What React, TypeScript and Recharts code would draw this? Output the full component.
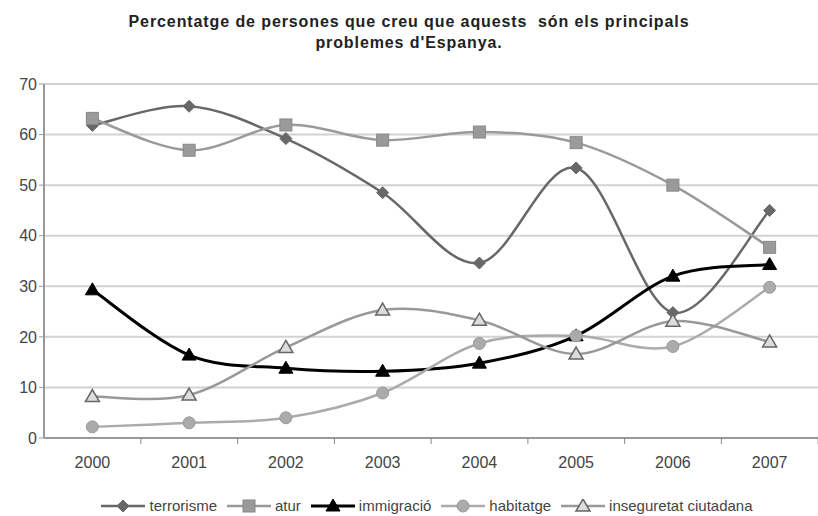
import { LineChart, Line, XAxis, YAxis, CartesianGrid } from "recharts";

const years = ["2000", "2001", "2002", "2003", "2004", "2005", "2006", "2007"];
const terrorisme = [61.8, 65.6, 59.2, 48.5, 34.6, 53.4, 24.8, 45];
const atur = [63.2, 56.9, 61.9, 58.9, 60.5, 58.4, 50, 37.7];
const immigracio = [29.3, 16.4, 13.8, 13.2, 14.8, 20.2, 32, 34.3];
const habitatge = [2.2, 3, 4, 8.9, 18.7, 20.2, 18.1, 29.8];
const inseguretat = [8.2, 8.5, 17.9, 25.3, 23.3, 16.6, 23.1, 19];
const yTicks = [0, 10, 20, 30, 40, 50, 60, 70];

const series = [
  { key: "terrorisme", name: "terrorisme", values: terrorisme, color: "#686868", shape: "diamond", fill: "#686868", width: 2.5 },
  { key: "atur", name: "atur", values: atur, color: "#9a9a9a", shape: "square", fill: "#9a9a9a", width: 2.5 },
  { key: "immigracio", name: "immigració", values: immigracio, color: "#000000", shape: "triangle", fill: "#000000", width: 3 },
  { key: "habitatge", name: "habitatge", values: habitatge, color: "#ababab", shape: "circle", fill: "#ababab", width: 2.5 },
  { key: "inseguretat", name: "inseguretat ciutadana", values: inseguretat, color: "#999999", shape: "triangleOpen", fill: "#dcdcdc", width: 2.5 },
];

const data = years.map((year, i) => {
  const row: Record<string, string | number> = { year };
  for (const s of series) row[s.key] = s.values[i];
  return row;
});

// Excel-style smoothing: Catmull-Rom through the points
function excelCurve(context: any) {
  let pts: [number, number][] = [];
  return {
    areaStart() {},
    areaEnd() {},
    lineStart() {
      pts = [];
    },
    lineEnd() {
      const n = pts.length;
      if (!n) return;
      context.moveTo(pts[0][0], pts[0][1]);
      for (let i = 0; i < n - 1; i++) {
        const p0 = pts[i - 1] || pts[i];
        const p1 = pts[i];
        const p2 = pts[i + 1];
        const p3 = pts[i + 2] || p2;
        context.bezierCurveTo(
          p1[0] + (p2[0] - p0[0]) / 6,
          p1[1] + (p2[1] - p0[1]) / 6,
          p2[0] - (p3[0] - p1[0]) / 6,
          p2[1] - (p3[1] - p1[1]) / 6,
          p2[0],
          p2[1]
        );
      }
    },
    point(x: number, y: number) {
      pts.push([+x, +y]);
    },
  };
}

function Marker({ cx, cy, shape, fill, color }: any) {
  if (cx == null || cy == null) return null;
  if (shape === "diamond") {
    return <path d={`M${cx},${cy - 6}L${cx + 6},${cy}L${cx},${cy + 6}L${cx - 6},${cy}Z`} fill={fill} stroke={color} strokeWidth={1} />;
  }
  if (shape === "square") {
    return <rect x={cx - 6} y={cy - 6} width={12} height={12} fill={fill} stroke="#888" strokeWidth={1} />;
  }
  if (shape === "circle") {
    return <circle cx={cx} cy={cy} r={6} fill={fill} stroke="#999" strokeWidth={1} />;
  }
  if (shape === "triangle") {
    return <path d={`M${cx},${cy - 7}L${cx + 7},${cy + 5}L${cx - 7},${cy + 5}Z`} fill={fill} stroke="#000" strokeWidth={1} />;
  }
  return <path d={`M${cx},${cy - 7}L${cx + 7},${cy + 5}L${cx - 7},${cy + 5}Z`} fill={fill} stroke="#666" strokeWidth={1.5} />;
}

function YearTick({ x, y, payload }: any) {
  return (
    <g>
      <line x1={x + 48.5} y1={y - 8} x2={x + 48.5} y2={y - 2} stroke="#888" />
      <text x={x} y={y + 22} textAnchor="middle" fill="#444" fontSize={16}>
        {payload.value}
      </text>
    </g>
  );
}

function LegendIcon({ s }: any) {
  return (
    <svg width={44} height={14} style={{ marginRight: 4 }}>
      <line x1={0} y1={7} x2={44} y2={7} stroke={s.color} strokeWidth={s.width} />
      <Marker cx={22} cy={7} shape={s.shape} fill={s.fill} color={s.color} />
    </svg>
  );
}

export default function App() {
  return (
    <div
      style={{
        position: "absolute",
        left: 0,
        top: 0,
        width: 818,
        height: 516,
        background: "#fff",
        fontFamily: "'Liberation Sans', Arial, sans-serif",
      }}
    >
      <div
        style={{
          position: "absolute",
          top: 11,
          left: 0,
          width: 818,
          textAlign: "center",
          fontWeight: "bold",
          fontSize: 16,
          letterSpacing: 0.9,
          lineHeight: "21px",
          color: "#222",
        }}
      >
        Percentatge de persones que creu que aquests&nbsp; són els principals
        <br />
        problemes d'Espanya.
      </div>
      <LineChart
        width={818}
        height={516}
        data={data}
        margin={{ top: 84, right: 0, bottom: 48, left: 0 }}
      >
        <CartesianGrid vertical={false} stroke="#d2d2d2" strokeWidth={2} />
        <XAxis
          dataKey="year"
          scale="band"
          height={30}
          axisLine={{ stroke: "#999", strokeWidth: 2 }}
          tickLine={false}
          tick={<YearTick />}
          interval={0}
        />
        <YAxis
          width={44}
          domain={[0, 70]}
          ticks={yTicks}
          axisLine={{ stroke: "#999", strokeWidth: 2 }}
          tickLine={{ stroke: "#999" }}
          tickSize={5}
          tick={{ fill: "#444", fontSize: 16 }}
        />
        {series.map((s) => (
          <Line
            key={s.key}
            dataKey={s.key}
            name={s.name}
            type={excelCurve as any}
            stroke={s.color}
            strokeWidth={s.width}
            dot={(p: any) => <Marker key={p.index} cx={p.cx} cy={p.cy} shape={s.shape} fill={s.fill} color={s.color} />}
            activeDot={false}
            isAnimationActive={false}
          />
        ))}
      </LineChart>
      <div
        style={{
          position: "absolute",
          top: 497,
          left: 0,
          width: 818,
          boxSizing: "border-box",
          paddingLeft: 36,
          display: "flex",
          justifyContent: "center",
          alignItems: "center",
          fontSize: 15,
          color: "#444",
          gap: 10,
        }}
      >
        {series.map((s) => (
          <div key={s.key} style={{ display: "flex", alignItems: "center" }}>
            <LegendIcon s={s} />
            <span>{s.name}</span>
          </div>
        ))}
      </div>
    </div>
  );
}
